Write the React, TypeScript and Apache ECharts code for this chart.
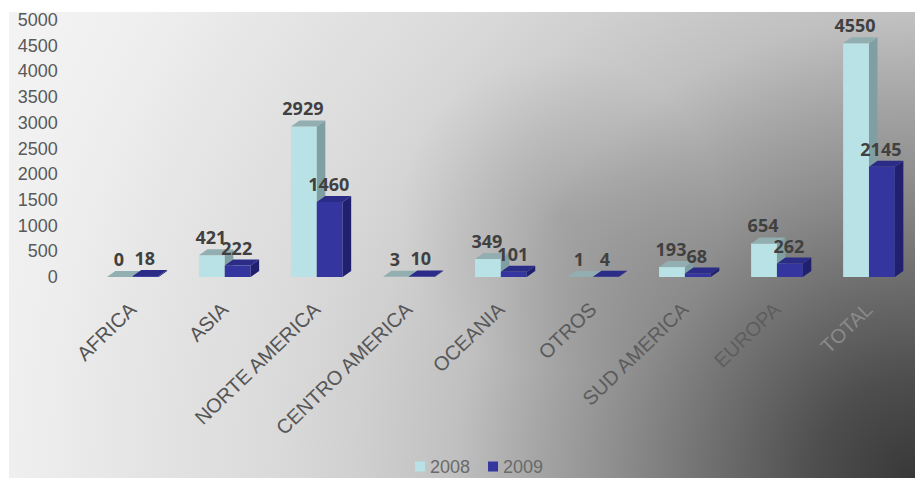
import React, { useEffect, useRef } from "react";
import * as echarts from "echarts";

const categories = [
  "AFRICA",
  "ASIA",
  "NORTE AMERICA",
  "CENTRO AMERICA",
  "OCEANIA",
  "OTROS",
  "SUD AMERICA",
  "EUROPA",
  "TOTAL",
];
const values2008 = [0, 421, 2929, 3, 349, 1, 193, 654, 4550];
const values2009 = [18, 222, 1460, 10, 101, 4, 68, 262, 2145];
const seriesNames = ["2008", "2009"];
const yMin = 0;
const yMax = 5000;
const yInterval = 500;

const palette = [
  { front: "#b9e2e6", top: "#93aeb1", side: "#7f9fa2" },
  { front: "#3535a0", top: "#2b2b88", side: "#20206f" },
];
const categoryLabelColors = [
  "#545454",
  "#545454",
  "#555555",
  "#575757",
  "#595959",
  "#5a5a5a",
  "#5c5c5c",
  "#5e5e5e",
  "#8a8a8a",
];

const axisFont = "'Liberation Sans', Arial, sans-serif";

function makeRenderItem(k: number) {
  return (params: any, api: any) => {
    const idx = api.value(0);
    const v = api.value(1);
    const base = api.coord([idx, 0]);
    const topP = api.coord([idx, v]);
    const band = api.size([1, 0])[0];
    const w = band * 0.281;
    const cx = base[0];
    const x0 = k === 0 ? cx - w : cx;
    const x1 = x0 + w;
    const yb = base[1];
    const yt = topP[1];
    const dx = 8.5;
    const dy = 6;
    const c = palette[k];
    return {
      type: "group",
      children: [
        {
          type: "rect",
          shape: { x: x0, y: yt, width: w, height: Math.max(0, yb - yt) },
          style: { fill: c.front },
        },
        {
          type: "polygon",
          shape: {
            points: [
              [x1, yt],
              [x1 + dx, yt - dy],
              [x1 + dx, yb - dy],
              [x1, yb],
            ],
          },
          style: { fill: c.side },
        },
        {
          type: "polygon",
          shape: {
            points: [
              [x0, yt],
              [x0 + dx, yt - dy],
              [x1 + dx, yt - dy],
              [x1, yt],
            ],
          },
          style: { fill: c.top },
        },
        {
          type: "text",
          z2: 100,
          x: x0 + w / 2 - 1,
          y: yt - 18,
          style: {
            text: String(v),
            fill: "#404040",
            fontFamily: "Noto Sans",
            fontWeight: "bold",
            fontSize: 18,
            align: "center",
            verticalAlign: "middle",
          },
        },
      ],
    };
  };
}

export default function App() {
  const ref = useRef<HTMLDivElement>(null);
  useEffect(() => {
    if (!ref.current) return;
    const chart = echarts.init(ref.current, undefined, { renderer: "svg" });
    const bg = new echarts.graphic.RadialGradient(
      915,
      478,
      1000,
      [
        { offset: 0, color: "#383838" },
        { offset: 0.1, color: "#4e4e4e" },
        { offset: 0.2, color: "#6e6e6e" },
        { offset: 0.3, color: "#8e8e8e" },
        { offset: 0.38, color: "#a6a6a6" },
        { offset: 0.46, color: "#c0c0c0" },
        { offset: 0.56, color: "#d0d0d0" },
        { offset: 0.64, color: "#dadada" },
        { offset: 0.77, color: "#e4e4e4" },
        { offset: 0.9, color: "#efefef" },
        { offset: 1, color: "#f3f3f3" },
      ],
      true
    );
    const blob = new echarts.graphic.RadialGradient(
      560,
      215,
      160,
      [
        { offset: 0, color: "rgba(0,0,0,0.12)" },
        { offset: 1, color: "rgba(0,0,0,0)" },
      ],
      true
    );
    chart.setOption({
      animation: false,
      backgroundColor: "#ffffff",
      color: [palette[0].front, palette[1].front],
      graphic: [
        {
          type: "rect",
          z: -100,
          silent: true,
          shape: { x: 9, y: 12, width: 906, height: 466 },
          style: { fill: bg },
        },
        {
          type: "rect",
          z: -99,
          silent: true,
          shape: { x: 9, y: 12, width: 906, height: 466 },
          style: { fill: blob },
        },
      ],
      grid: { left: 86.75, top: 20, width: 832.5, bottom: 201 },
      legend: {
        left: 415,
        top: 457,
        icon: "rect",
        itemWidth: 10,
        itemHeight: 10,
        itemGap: 18,
        padding: 0,
        data: seriesNames,
        textStyle: {
          fontFamily: axisFont,
          fontSize: 18,
          lineHeight: 19,
          color: "#6a6a6a",
        },
      },
      xAxis: {
        type: "category",
        data: categories,
        axisLine: { show: false },
        axisTick: { show: false },
        axisLabel: {
          rotate: 44,
          margin: 29,
          interval: 0,
          fontFamily: axisFont,
          fontSize: 20,
          color: (value: string, index: number) =>
            categoryLabelColors[index] ?? "#555555",
        },
      },
      yAxis: {
        type: "value",
        min: yMin,
        max: yMax,
        interval: yInterval,
        axisLine: { show: false },
        axisTick: { show: false },
        splitLine: { show: false },
        axisLabel: {
          margin: 29,
          fontFamily: axisFont,
          fontSize: 18,
          color: "#595959",
          padding: [14, 0, 0, 0],
          formatter: (v: number) => String(v),
        },
      },
      series: [values2008, values2009].map((vals, k) => ({
        type: "custom",
        name: seriesNames[k],
        itemStyle: { color: palette[k].front },
        renderItem: makeRenderItem(k),
        encode: { x: 0, y: 1 },
        data: vals.map((v, i) => [i, v]),
      })),
    });
    return () => chart.dispose();
  }, []);
  return (
    <div
      ref={ref}
      style={{ position: "fixed", left: 0, top: 0, width: 915, height: 478 }}
    />
  );
}
